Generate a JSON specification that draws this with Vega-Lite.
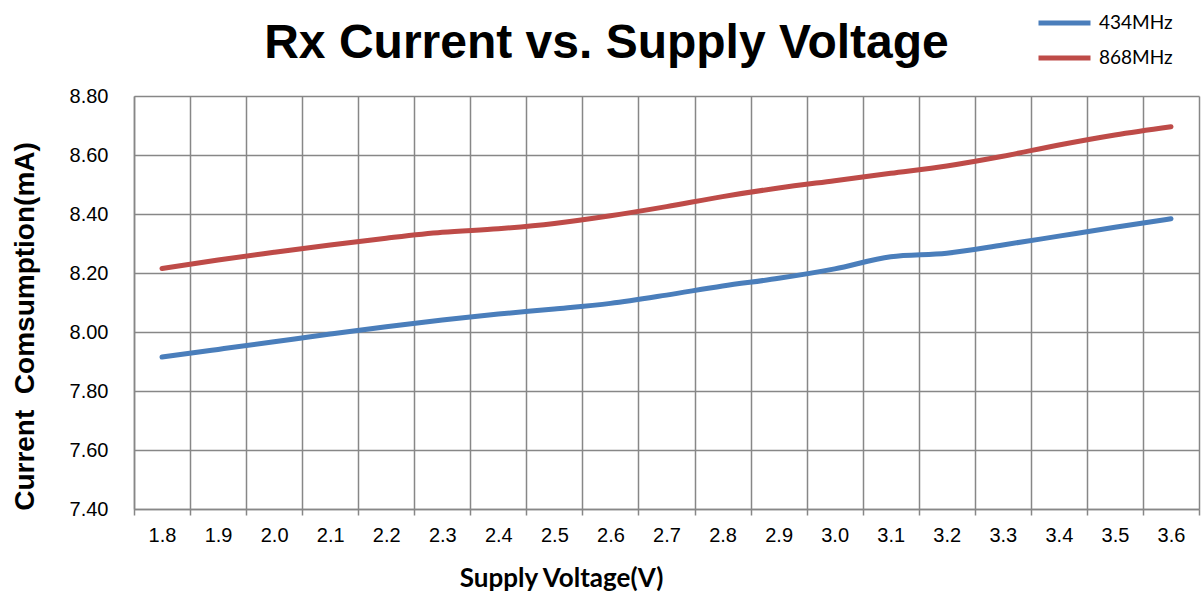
{
  "$schema": "https://vega.github.io/schema/vega-lite/v6.json",
  "width": 1065,
  "height": 413,
  "autosize": {"type": "none"},
  "padding": {"left": 134, "top": 96, "right": 2, "bottom": 86},
  "background": "white",
  "title": {
    "text": "Rx Current vs. Supply Voltage",
    "font": "Liberation Sans",
    "fontSize": 48,
    "fontWeight": "bold",
    "color": "black",
    "anchor": "middle",
    "dx": -60,
    "baseline": "alphabetic",
    "offset": -93
  },
  "data": {
    "values": [
      {"voltage": "1.8", "freq": "434MHz", "current": 7.915},
      {"voltage": "1.9", "freq": "434MHz", "current": 7.941},
      {"voltage": "2.0", "freq": "434MHz", "current": 7.967},
      {"voltage": "2.1", "freq": "434MHz", "current": 7.993},
      {"voltage": "2.2", "freq": "434MHz", "current": 8.018},
      {"voltage": "2.3", "freq": "434MHz", "current": 8.041},
      {"voltage": "2.4", "freq": "434MHz", "current": 8.061},
      {"voltage": "2.5", "freq": "434MHz", "current": 8.078},
      {"voltage": "2.6", "freq": "434MHz", "current": 8.097},
      {"voltage": "2.7", "freq": "434MHz", "current": 8.125},
      {"voltage": "2.8", "freq": "434MHz", "current": 8.156},
      {"voltage": "2.9", "freq": "434MHz", "current": 8.182},
      {"voltage": "3.0", "freq": "434MHz", "current": 8.214},
      {"voltage": "3.1", "freq": "434MHz", "current": 8.255},
      {"voltage": "3.2", "freq": "434MHz", "current": 8.267},
      {"voltage": "3.3", "freq": "434MHz", "current": 8.295},
      {"voltage": "3.4", "freq": "434MHz", "current": 8.325},
      {"voltage": "3.5", "freq": "434MHz", "current": 8.355},
      {"voltage": "3.6", "freq": "434MHz", "current": 8.384},
      {"voltage": "1.8", "freq": "868MHz", "current": 8.215},
      {"voltage": "1.9", "freq": "868MHz", "current": 8.244},
      {"voltage": "2.0", "freq": "868MHz", "current": 8.270},
      {"voltage": "2.1", "freq": "868MHz", "current": 8.295},
      {"voltage": "2.2", "freq": "868MHz", "current": 8.318},
      {"voltage": "2.3", "freq": "868MHz", "current": 8.338},
      {"voltage": "2.4", "freq": "868MHz", "current": 8.350},
      {"voltage": "2.5", "freq": "868MHz", "current": 8.368},
      {"voltage": "2.6", "freq": "868MHz", "current": 8.394},
      {"voltage": "2.7", "freq": "868MHz", "current": 8.425},
      {"voltage": "2.8", "freq": "868MHz", "current": 8.459},
      {"voltage": "2.9", "freq": "868MHz", "current": 8.488},
      {"voltage": "3.0", "freq": "868MHz", "current": 8.513},
      {"voltage": "3.1", "freq": "868MHz", "current": 8.538},
      {"voltage": "3.2", "freq": "868MHz", "current": 8.563},
      {"voltage": "3.3", "freq": "868MHz", "current": 8.596},
      {"voltage": "3.4", "freq": "868MHz", "current": 8.634},
      {"voltage": "3.5", "freq": "868MHz", "current": 8.668},
      {"voltage": "3.6", "freq": "868MHz", "current": 8.696}
    ]
  },
  "mark": {"type": "line", "strokeWidth": 5, "strokeCap": "round", "strokeJoin": "round", "interpolate": "monotone"},
  "encoding": {
    "x": {
      "field": "voltage",
      "type": "ordinal",
      "bandPosition": 0.5,
      "scale": {"type": "band", "paddingInner": 0, "paddingOuter": 0},
      "axis": {
        "title": "Supply Voltage(V)",
        "titleFont": "Lato",
        "titleFontSize": 26,
        "titleFontWeight": "bold",
        "titleColor": "black",
        "titleX": 427,
        "titleY": 69,
        "titleAlign": "center",
        "titleBaseline": "middle",
        "labelAngle": 0,
        "labelFont": "Liberation Sans",
        "labelFontSize": 20,
        "labelColor": "black",
        "labelPadding": 10,
        "tickBand": "extent",
        "tickSize": 6,
        "tickColor": "#878787",
        "tickWidth": 1.5,
        "grid": true,
        "gridColor": "#878787",
        "gridWidth": 1.5,
        "gridOpacity": 1,
        "domainColor": "#878787",
        "domainWidth": 1.5
      }
    },
    "y": {
      "field": "current",
      "type": "quantitative",
      "scale": {"domain": [7.4, 8.8], "nice": false, "zero": false},
      "axis": {
        "title": "Current\u00a0 Comsumption(mA)",
        "titleFont": "Liberation Sans",
        "titleFontSize": 28,
        "titleFontWeight": "bold",
        "titleColor": "black",
        "titleX": -109,
        "titleY": 230,
        "titleAlign": "center",
        "titleBaseline": "middle",
        "titleAngle": -90,
        "values": [7.4, 7.6, 7.8, 8.0, 8.2, 8.4, 8.6, 8.8],
        "format": ".2f",
        "labelFont": "Liberation Sans",
        "labelFontSize": 20,
        "labelColor": "black",
        "labelPadding": 26,
        "ticks": false,
        "tickSize": 0,
        "grid": true,
        "gridColor": "#878787",
        "gridWidth": 1.5,
        "gridOpacity": 1,
        "domainColor": "#878787",
        "domainWidth": 1.5
      }
    },
    "color": {
      "field": "freq",
      "type": "nominal",
      "scale": {"domain": ["434MHz", "868MHz"], "range": ["#4A7EBB", "#BE4B48"]},
      "legend": {
        "orient": "none",
        "legendX": 902,
        "legendY": -83,
        "title": null,
        "padding": 0,
        "symbolType": "stroke",
        "symbolSize": 2704,
        "symbolStrokeWidth": 5,
        "clipHeight": 20,
        "rowPadding": 15,
        "labelFont": "Lato",
        "labelFontSize": 19,
        "labelColor": "black",
        "labelOffset": 6
      }
    }
  },
  "config": {"view": {"stroke": null}}
}
